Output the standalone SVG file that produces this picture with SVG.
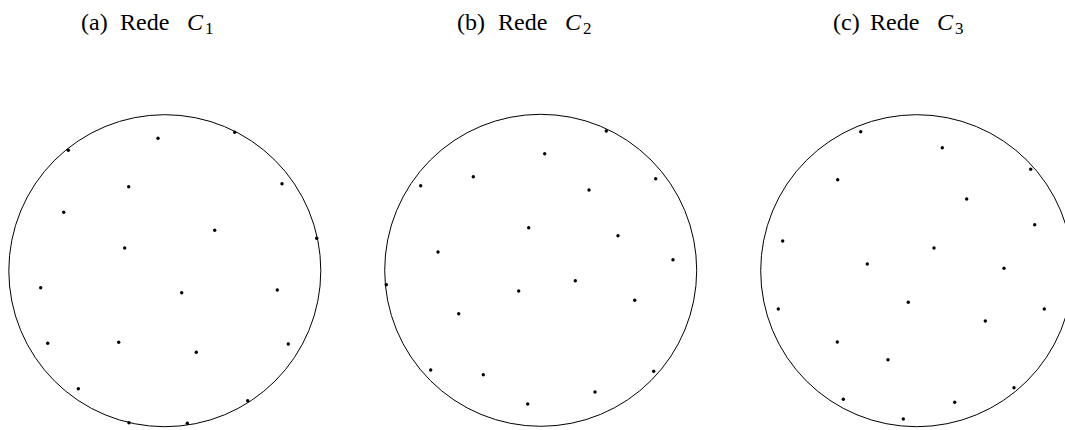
<svg xmlns="http://www.w3.org/2000/svg" width="1065" height="430" viewBox="0 0 1065 430">
<style>
.ring{fill:none;stroke:#000;stroke-width:1}
.d{fill:#000}
.t{font-family:"Liberation Serif","DejaVu Serif",serif;font-size:24px;fill:#000}
.i{font-style:italic}
.s{font-size:17px}
</style>
<rect width="1065" height="430" fill="#fff"/>
<text class="t" y="29.5"><tspan x="81">(a)</tspan><tspan x="120">Rede</tspan><tspan class="i" x="187">C</tspan><tspan class="s" x="205" y="33.5">1</tspan></text>
<text class="t" y="29.5"><tspan x="457">(b)</tspan><tspan x="498">Rede</tspan><tspan class="i" x="565">C</tspan><tspan class="s" x="583" y="33.5">2</tspan></text>
<text class="t" y="29.5"><tspan x="833">(c)</tspan><tspan x="870">Rede</tspan><tspan class="i" x="937">C</tspan><tspan class="s" x="955" y="33.5">3</tspan></text>
<g id="netA">
<circle class="ring" cx="164.8" cy="270.7" r="156"/>
<g class="d">
<circle cx="158" cy="138.3" r="1.7"/><circle cx="234.7" cy="132.3" r="1.7"/><circle cx="68.3" cy="150.3" r="1.7"/><circle cx="128.7" cy="186.7" r="1.7"/><circle cx="282" cy="183.7" r="1.7"/><circle cx="63.7" cy="212.3" r="1.7"/><circle cx="214.7" cy="230.3" r="1.7"/><circle cx="316.7" cy="238.3" r="1.7"/><circle cx="124.7" cy="248" r="1.7"/><circle cx="40.7" cy="287.7" r="1.7"/><circle cx="181.7" cy="292.7" r="1.7"/><circle cx="277.3" cy="290" r="1.7"/><circle cx="47.7" cy="343.3" r="1.7"/><circle cx="118.7" cy="342.3" r="1.7"/><circle cx="196.3" cy="352.3" r="1.7"/><circle cx="288.3" cy="344" r="1.7"/><circle cx="78.3" cy="388.7" r="1.7"/><circle cx="247.7" cy="400.7" r="1.7"/><circle cx="129" cy="422.7" r="1.7"/><circle cx="187.3" cy="423.3" r="1.7"/>
</g>
</g>
<g id="netB">
<circle class="ring" cx="540.7" cy="270.3" r="156"/>
<g class="d">
<circle cx="606.3" cy="131" r="1.7"/><circle cx="544.7" cy="153.7" r="1.7"/><circle cx="473.3" cy="176.7" r="1.7"/><circle cx="420.7" cy="185.7" r="1.7"/><circle cx="655.7" cy="178.7" r="1.7"/><circle cx="589" cy="190" r="1.7"/><circle cx="528.7" cy="227.7" r="1.7"/><circle cx="618" cy="235.7" r="1.7"/><circle cx="438" cy="252" r="1.7"/><circle cx="673" cy="259.7" r="1.7"/><circle cx="386.3" cy="284.7" r="1.7"/><circle cx="575.3" cy="280.7" r="1.7"/><circle cx="518.7" cy="291" r="1.7"/><circle cx="634.7" cy="300.3" r="1.7"/><circle cx="458.7" cy="313.7" r="1.7"/><circle cx="430.7" cy="370" r="1.7"/><circle cx="483.3" cy="374.7" r="1.7"/><circle cx="653.7" cy="371.3" r="1.7"/><circle cx="595" cy="392" r="1.7"/><circle cx="527.7" cy="404" r="1.7"/>
</g>
</g>
<g id="netC">
<circle class="ring" cx="916.7" cy="270.7" r="156"/>
<g class="d">
<circle cx="860.7" cy="131.7" r="1.7"/><circle cx="942.3" cy="147.7" r="1.7"/><circle cx="1030.7" cy="169.3" r="1.7"/><circle cx="837.7" cy="179.7" r="1.7"/><circle cx="966.7" cy="199" r="1.7"/><circle cx="1034.7" cy="224.7" r="1.7"/><circle cx="782.7" cy="241" r="1.7"/><circle cx="934" cy="248" r="1.7"/><circle cx="867.3" cy="264" r="1.7"/><circle cx="1004" cy="268.3" r="1.7"/><circle cx="778.3" cy="309" r="1.7"/><circle cx="908.3" cy="302.3" r="1.7"/><circle cx="1044.3" cy="309" r="1.7"/><circle cx="985.3" cy="321" r="1.7"/><circle cx="837.3" cy="342" r="1.7"/><circle cx="888" cy="359.7" r="1.7"/><circle cx="843.3" cy="399.3" r="1.7"/><circle cx="954.7" cy="402.3" r="1.7"/><circle cx="1014" cy="387.7" r="1.7"/><circle cx="903.3" cy="419" r="1.7"/>
</g>
</g>
</svg>
